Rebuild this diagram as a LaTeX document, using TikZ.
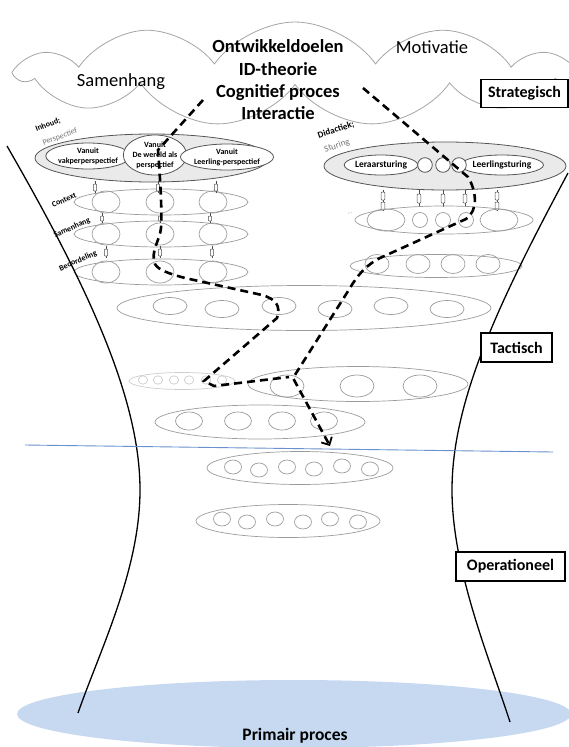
\documentclass[tikz,border=0pt]{standalone}
\usepackage{fontspec}
\setmainfont{Carlito}
\usepackage{tikz}
\usetikzlibrary{arrows.meta,shapes.geometric,shapes.symbols}

\definecolor{groepvlak}{RGB}{234,234,234}
\definecolor{groeprand}{RGB}{85,85,85}
\definecolor{rijrand}{RGB}{155,155,155}
\definecolor{vaagrand}{RGB}{205,205,205}
\definecolor{wolkrand}{RGB}{165,165,165}
\definecolor{primairblauw}{RGB}{198,217,240}
\definecolor{grensblauw}{RGB}{105,145,205}

\tikzset{
	niveau/.style={draw=black, line width=1.1pt, fill=white, inner sep=0pt,
		font=\fontsize{16}{18}\selectfont\bfseries},
	groep/.style={draw=groeprand, line width=0.8pt, fill=groepvlak},
	binnen/.style={ellipse, draw=groeprand, line width=0.8pt, fill=white,
		inner sep=0pt, align=center, font=\fontsize{8}{10}\selectfont\bfseries},
	rij/.style={draw=rijrand, line width=0.7pt},
	vaag/.style={draw=vaagrand, line width=0.7pt},
	schakel/.style={draw=black!70, line width=0.5pt, rounded corners=0.8pt},
	laag/.style={rotate=24, inner sep=0pt, font=\fontsize{8}{9}\selectfont\bfseries},
	route/.style={line width=2.6pt, dash pattern=on 8pt off 5pt},
	thema/.style={anchor=base, font=\fontsize{18.5}{22}\selectfont\bfseries},
}

\begin{document}
\begin{tikzpicture}[x=1pt,y=-1pt]
	\useasboundingbox (0,0) rectangle (569,747);
	
	% --- primair proces onderaan ---
	\fill[primairblauw] (294,714) ellipse [x radius=277pt, y radius=34pt];
	\node[font=\fontsize{17.5}{20}\selectfont\bfseries] (primair) at (295,736) {Primair proces};
	
	% --- wolk (strategisch) ---
	\node[cloud, cloud puffs=11, cloud puff arc=110, cloud ignores aspect,
	draw=wolkrand, line width=0.8pt, fill=white, inner sep=0pt,
	minimum width=552pt, minimum height=104pt] (wolk) at (295,74) {};
	\foreach \y/\tekst [count=\i] in {52/Ontwikkeldoelen, 75/ID-theorie, 97/Cognitief proces, 119/Interactie}
	\node[thema] (thema\i) at (278,\y) {\tekst};
	\node[font=\fontsize{18.5}{22}\selectfont] (motivatie) at (432,47) {Motivatie};
	\node[font=\fontsize{18.5}{22}\selectfont] (samenhang) at (121,82) {Samenhang};
	
	% --- inhoud: perspectieven (links) ---
	\draw[groep] (152,158) ellipse [x radius=117pt, y radius=24pt];
	\node[binnen, minimum width=74pt, minimum height=26pt] (vakpersp) at (88,156) {Vanuit\\vakperperspectief};
	\node[binnen, minimum width=49pt, minimum height=40pt] (wereldpersp) at (155,155) {Vanuit\\De wereld als\\perspectief};
	\node[binnen, minimum width=76pt, minimum height=26pt] (leerlingpersp) at (227,157) {Vanuit\\Leerling-perspectief};
	\node[laag, rotate=-4] (inhoud) at (48,125) {Inhoud;};
	\node[laag, rotate=-4, font=\fontsize{8}{9}\selectfont, text=black!55] (perspectief) at (60,137) {Perspectief};
	
	% rijen context / samenhang / beoordeling
	\foreach \y in {202,234,272}{
		\draw[rij] (161,\y) ellipse [x radius=87pt, y radius=13pt];
		\foreach \x in {106,160,213}
		\draw[rij] (\x,\y) ellipse [x radius=14pt, y radius=11pt];
	}
	\node[laag] (context) at (64,200) {Context};
	\node[laag] (samenhangrij) at (72,228) {Samenhang};
	\node[laag] (beoordeling) at (78,261) {Beoordeling};
	
	% kettinkjes tussen de rijen
	\foreach \x/\ya/\yb in {95/181/193, 158/181/193, 216/181/193,
		102/213/223, 160/213/223, 210/213/223,
		106/246/258, 160/246/258, 212/246/258}{
		\draw[schakel] (\x,\ya) -- (\x,\yb);
		\draw[schakel, fill=white] (\x-1.6,\ya+3) rectangle (\x+1.6,\yb-2);
	}
	
	% --- didactiek: sturing (rechts) ---
	\draw[groep] (445,166) ellipse [x radius=121pt, y radius=24pt];
	\node[binnen, font=\fontsize{9.5}{11}\selectfont\bfseries, minimum width=65pt, minimum height=20pt] (leraar) at (381,165) {Leraarsturing};
	\node[binnen, font=\fontsize{9.5}{11}\selectfont\bfseries, minimum width=69pt, minimum height=20pt] (leerling) at (502,165) {Leerlingsturing};
	\foreach \x in {425,443,459}
	\draw[groeprand, line width=0.8pt, fill=white] (\x,165) circle [radius=7.3pt];
	\node[laag, rotate=-6, font=\fontsize{9}{10}\selectfont\bfseries] (didactiek) at (336,130) {Didactiek;};
	\node[laag, rotate=-6, font=\fontsize{9}{10}\selectfont, text=black!55] (sturing) at (337,146) {Sturing};
	
	% kettinkjes: enkel en dubbel
	\foreach \x in {419,443,465}{
		\draw[schakel] (\x,190) -- (\x,207);
		\draw[schakel, fill=white] (\x-1.8,194) rectangle (\x+1.8,203);
	}
	\foreach \x in {383,497}{
		\draw[schakel] (\x,190) -- (\x,211);
		\draw[schakel, fill=white] (\x-1.8,192) rectangle (\x+1.8,200);
		\draw[schakel, fill=white] (\x-1.8,202) rectangle (\x+1.8,210);
	}
	
	% tweede en derde rij rechts
	\draw[rij] (444,220) ellipse [x radius=89pt, y radius=14pt];
	\draw[rij] (386,220) ellipse [x radius=19pt, y radius=11pt];
	\draw[rij] (499,220) ellipse [x radius=19pt, y radius=11pt];
	\foreach \x in {420,443,466}
	\draw[rij] (\x,220) circle [radius=7.5pt];
	\node[font=\fontsize{6}{6}\selectfont, text=rijrand, rotate=20] (puntjes) at (350,213) {...};
	\draw[rij] (436,266) ellipse [x radius=86pt, y radius=11.5pt];
	\foreach \x in {377,418,453,488}
	\draw[rij] (\x,264) ellipse [x radius=12pt, y radius=9.5pt];
	
	% --- tactische rijen ---
	\draw[rij] (304,308) ellipse [x radius=187pt, y radius=22.5pt];
	\foreach \x/\y in {170/306, 222/309, 279/306, 335/309, 391/306, 447/309}
	\draw[rij] (\x,\y) ellipse [x radius=17pt, y radius=8.5pt];
	
	\draw[vaag] (182,381) ellipse [x radius=53pt, y radius=8.5pt];
	\foreach \x in {143,158,174,189,206,222}
	\draw[vaag] (\x,380) ellipse [x radius=4.7pt, y radius=4.2pt];
	
	\draw[rij] (358,384) ellipse [x radius=110pt, y radius=17.5pt];
	\foreach \x in {287,357,420}
	\draw[rij] (\x,386) ellipse [x radius=17pt, y radius=11pt];
	
	\draw[rij] (260,422) ellipse [x radius=105pt, y radius=17pt];
	\foreach \x in {189,238,282,324}
	\draw[rij] (\x,421) ellipse [x radius=13.5pt, y radius=9pt];
	
	% --- operationele rijen ---
	\draw[rij] (300,468) ellipse [x radius=93pt, y radius=16.5pt];
	\foreach \x/\y in {233/467, 259/470, 287/467, 314/469, 342/466, 370/469}
	\draw[rij] (\x,\y) ellipse [x radius=8.5pt, y radius=7pt];
	\draw[rij] (288,521) ellipse [x radius=92pt, y radius=16.5pt];
	\foreach \x/\y in {222/519, 247/522, 275/519, 303/522, 330/519, 358/522}
	\draw[rij] (\x,\y) ellipse [x radius=8.5pt, y radius=7pt];
	
	% --- trechter en grens tactisch/operationeel ---
	\draw[line width=1.3pt] (7,146) .. controls (90,290) and (140,400) .. (140,490)
	.. controls (140,570) and (100,650) .. (78,713);
	\draw[line width=1.3pt] (568,173) .. controls (500,300) and (452,400) .. (452,490)
	.. controls (452,570) and (490,660) .. (510,722);
	\draw[grensblauw, line width=0.9pt] (25,445) -- (553,452);
	
	% --- routes door de lagen (gestippeld) ---
	\draw[route] (203,100) -- (158,150) .. controls (161,190) and (162,215) .. (161,228)
	.. controls (160,240) and (150,252) .. (155,264) .. controls (158,270) and (170,274) .. (185,278)
	-- (262,295) .. controls (276,299) and (281,306) .. (277,318)
	-- (204,381) -- (214,386) -- (289,377);
	\draw[route, -{Straight Barb[length=6pt,width=12pt,line width=1.8pt]}]
	(363,88) -- (468,177) .. controls (476,190) and (479,210) .. (466,219)
	-- (380,258) .. controls (366,265) and (357,276) .. (350,288)
	-- (293,378) -- (330,446);
	
	% --- niveaus ---
	\node[niveau, minimum width=87pt, minimum height=28pt] (strategisch) at (524.5,93.5) {Strategisch};
	\node[niveau, minimum width=71pt, minimum height=29pt] (tactisch) at (516.5,347.5) {Tactisch};
	\node[niveau, minimum width=109pt, minimum height=29pt] (operationeel) at (510.5,566.5) {Operationeel};
	
\end{tikzpicture}
\end{document}
